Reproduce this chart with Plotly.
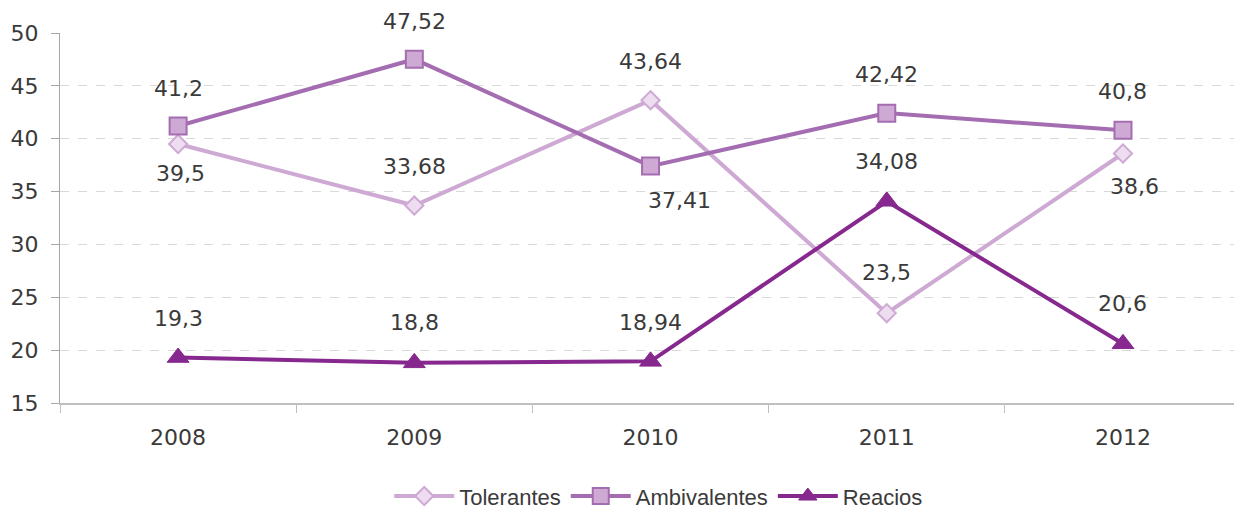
import plotly.graph_objects as go

years = ["2008", "2009", "2010", "2011", "2012"]
tolerantes = [39.5, 33.68, 43.64, 23.5, 38.6]
ambivalentes = [41.2, 47.52, 37.41, 42.42, 40.8]
reacios = [19.3, 18.8, 18.94, 34.08, 20.6]
series_names = ["Tolerantes", "Ambivalentes", "Reacios"]

# label placement (pixel shifts) per point: style only
tol_shift = [(2, -29), (0, 39), (0, 39), (0, 41), (12, -33)]
amb_shift = [(0, 38), (0, 38), (29, -34), (0, 39), (0, 39)]
rea_shift = [(0, 39), (0, 40), (0, 39), (0, 40), (0, 40)]

NUM_FONT = "DejaVu Sans"
TXT_FONT = "Liberation Sans, Arial, sans-serif"
TEXT_COLOR = "#3a3a3a"

fig = go.Figure()
fig.add_trace(go.Scatter(
    x=years, y=tolerantes, name=series_names[0], mode="lines+markers",
    line=dict(color="#CDA9D3", width=4),
    marker=dict(symbol="diamond", size=14, color="#EEDDF0",
                line=dict(color="#CDA9D3", width=2)),
))
fig.add_trace(go.Scatter(
    x=years, y=ambivalentes, name=series_names[1], mode="lines+markers",
    line=dict(color="#A56DB1", width=4),
    marker=dict(symbol="square", size=17, color="#CDA9D3",
                line=dict(color="#A56DB1", width=2)),
))
fig.add_trace(go.Scatter(
    x=years, y=reacios, name=series_names[2], mode="lines+markers",
    line=dict(color="#86288E", width=4),
    marker=dict(symbol="triangle-up", size=19, color="#86288E",
                line=dict(color="#86288E", width=1)),
))

def fmt(v):
    return f"{v:g}".replace(".", ",")

for vals, shifts in [(tolerantes, tol_shift), (ambivalentes, amb_shift), (reacios, rea_shift)]:
    for i, (v, (dx, dy)) in enumerate(zip(vals, shifts)):
        fig.add_annotation(x=i, y=v, text=fmt(v), showarrow=False,
                           xshift=dx, yshift=dy,
                           font=dict(family=NUM_FONT, size=22, color=TEXT_COLOR))

fig.update_layout(
    width=1234, height=510,
    margin=dict(l=60, r=0, t=33, b=107, autoexpand=False),
    plot_bgcolor="white", paper_bgcolor="white",
    showlegend=True,
    legend=dict(orientation="h", x=0.51, xanchor="center", y=-0.252, yanchor="middle",
                font=dict(family=TXT_FONT, size=22, color=TEXT_COLOR),
                itemwidth=60, tracegroupgap=0),
)
fig.update_xaxes(
    type="category", range=[-0.5, 4.47],
    showgrid=False, showline=True, linecolor="#BFBFBF", linewidth=2,
    ticks="outside", tickson="boundaries", ticklen=8, tickcolor="#BFBFBF",
    ticklabelstandoff=14,
    tickfont=dict(family=NUM_FONT, size=22, color=TEXT_COLOR),
)
fig.update_yaxes(
    range=[15, 50], dtick=5, tick0=15,
    showgrid=True, gridcolor="#D9D9D9", griddash="dash", gridwidth=1,
    showline=True, linecolor="#A6A6A6", linewidth=1,
    ticks="outside", ticklen=8, tickcolor="#A6A6A6",
    ticklabelstandoff=8,
    zeroline=False,
    tickfont=dict(family=NUM_FONT, size=22, color=TEXT_COLOR),
)

fig.write_html("out.html", config={"displayModeBar": False},
               post_script="document.body.style.margin='0px';")
